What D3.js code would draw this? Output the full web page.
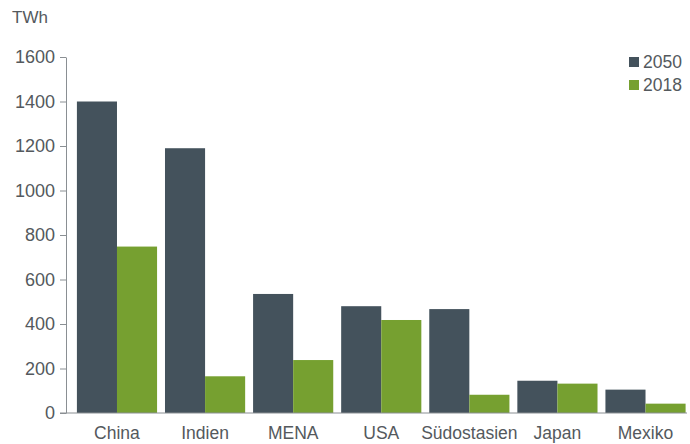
<!DOCTYPE html>
<html lang="de">
<head>
    <meta charset="UTF-8">
    <title>TWh 2050 vs 2018</title>
    <script type="text/javascript" src="https://cdn.jsdelivr.net/npm/d3@7"></script>
    <style>
        body { margin: 0; background: #fff; }
        text {
            font-family: "Liberation Sans", Arial, sans-serif;
            fill: #54595d;
        }
        .axis path, .axis line { stroke: #8a8f93; }
        .axis text { font-size: 18px; }
    </style>
</head>
<body>
    <script type="text/javascript">
        const regions = ['China', 'Indien', 'MENA', 'USA', 'Südostasien', 'Japan', 'Mexiko'];
        const values2050 = [1400, 1190, 535, 480, 467, 145, 105];
        const values2018 = [748, 165, 238, 418, 82, 132, 42];
        const seriesNames = ['2050', '2018'];
        const seriesColors = ['#44525c', '#76a030'];
        const yTicks = [0, 200, 400, 600, 800, 1000, 1200, 1400, 1600];

        const w = 690;
        const h = 444;
        const axisX = 66;

        const svg = d3.select('body')
            .append('svg')
            .attr('width', w)
            .attr('height', h);

        const yScale = d3.scaleLinear()
            .domain([0, 1600])
            .range([413, 57]);

        const xScale = d3.scaleBand()
            .domain(regions)
            .range([72.5, 690])
            .paddingInner(0.09)
            .paddingOuter(0.05);

        const inner = d3.scaleBand()
            .domain(seriesNames)
            .range([0, xScale.bandwidth()]);

        // unit label
        svg.append('text')
            .attr('x', 12)
            .attr('y', 23)
            .attr('font-size', 17)
            .text('TWh');

        // bars
        const series = [values2050, values2018];
        seriesNames.forEach((name, s) => {
            svg.append('g')
                .selectAll('rect')
                .data(regions)
                .enter()
                .append('rect')
                .attr('x', d => xScale(d) + inner(name))
                .attr('y', (d, i) => yScale(series[s][i]))
                .attr('width', inner.bandwidth())
                .attr('height', (d, i) => yScale(0) - yScale(series[s][i]))
                .attr('fill', seriesColors[s]);
        });

        // y axis
        const yAxis = d3.axisLeft(yScale)
            .tickValues(yTicks)
            .tickFormat(d3.format('d'))
            .tickSize(6)
            .tickSizeOuter(0)
            .tickPadding(5);
        const gy = svg.append('g')
            .attr('class', 'axis')
            .attr('transform', 'translate(' + axisX + ',0)')
            .call(yAxis);
        gy.selectAll('text').attr('fill', '#54595d');

        // baseline
        svg.append('line')
            .attr('x1', axisX - 6)
            .attr('x2', 687)
            .attr('y1', yScale(0))
            .attr('y2', yScale(0))
            .attr('stroke', '#8a8f93');

        // category labels
        svg.append('g')
            .selectAll('text')
            .data(regions)
            .enter()
            .append('text')
            .attr('x', d => xScale(d) + xScale.bandwidth() / 2)
            .attr('y', 439)
            .attr('text-anchor', 'middle')
            .attr('font-size', 17.5)
            .text(d => d);

        // legend
        const legend = svg.append('g')
            .selectAll('g')
            .data(seriesNames)
            .enter()
            .append('g')
            .attr('transform', (d, i) => 'translate(629,' + (57 + i * 23) + ')');
        legend.append('rect')
            .attr('width', 10)
            .attr('height', 10)
            .attr('fill', (d, i) => seriesColors[i]);
        legend.append('text')
            .attr('x', 14)
            .attr('y', 11)
            .attr('font-size', 17.5)
            .text(d => d);
    </script>
</body>
</html>
